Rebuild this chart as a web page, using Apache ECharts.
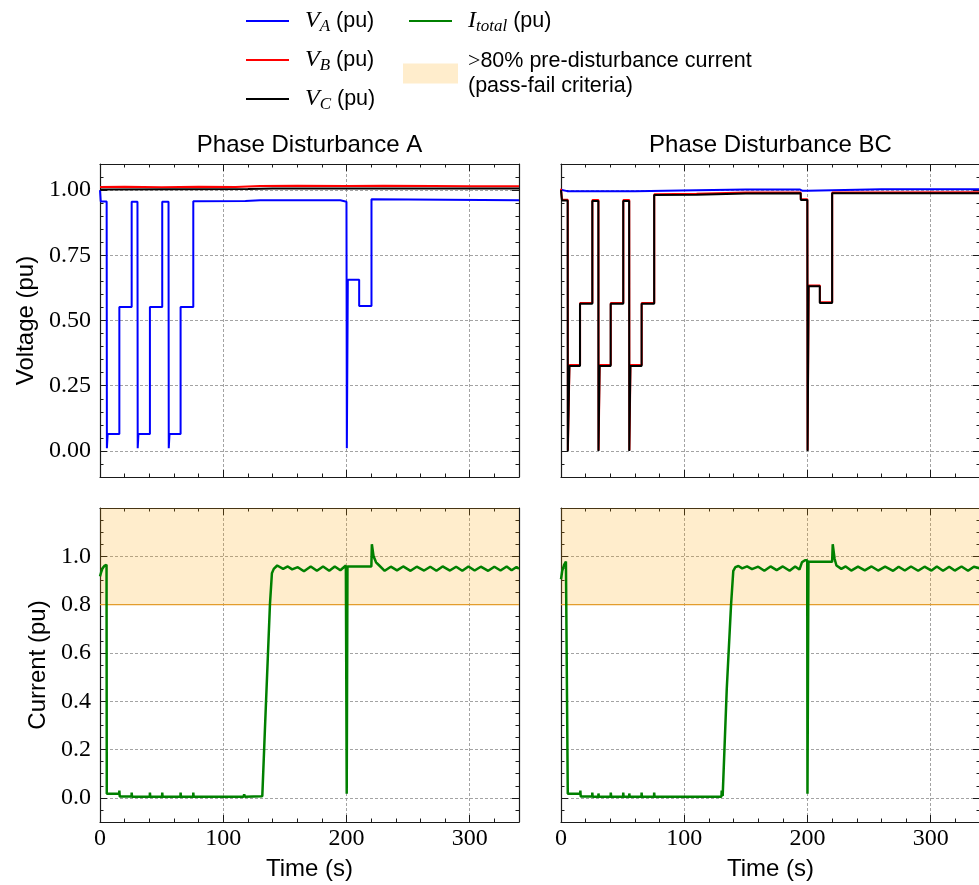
<!DOCTYPE html>
<html>
<head>
<meta charset="utf-8">
<title>Phase disturbance ride-through</title>
<script src="https://cdn.jsdelivr.net/npm/echarts@6/dist/echarts.min.js"></script>
<style>
  html, body { margin: 0; padding: 0; background: #fff; }
  #chart { width: 979px; height: 885px; }
</style>
</head>
<body>
<div id="chart"></div>
<script>
// axes
var timeMax = 340;
var timeTicks = [0, 100, 200, 300];
var voltageTicks = [0, 0.25, 0.5, 0.75, 1.0];
var currentTicks = [0, 0.2, 0.4, 0.6, 0.8, 1.0];
var voltageRange = [-0.1, 1.1];
var currentRange = [-0.1, 1.2];
var passFailLevel = 0.8;
var panelTitles = ['Phase Disturbance A', 'Phase Disturbance BC'];

// [time (s), value (pu)] -- phase A disturbance
var vaPhaseA = [[0, 1.000], [0.6, 0.956], [5.4, 0.956], [5.6, 0.010], [6.2, 0.065], [15.7, 0.065], [15.7, 0.552],
  [25.7, 0.552], [25.7, 0.955], [30.4, 0.955], [30.6, 0.010], [31.2, 0.065], [40.5, 0.065], [40.5, 0.552],
  [50.5, 0.552], [50.5, 0.955], [55.6, 0.955], [55.8, 0.010], [56.4, 0.065], [65.4, 0.065], [65.4, 0.552],
  [75.7, 0.552], [75.7, 0.957], [118, 0.958], [130, 0.961], [195, 0.961], [196, 0.955], [200, 0.955],
  [200.3, 0.010], [201.1, 0.656], [210.3, 0.656], [210.3, 0.556], [220.3, 0.556], [220.3, 0.965],
  [280, 0.963], [340, 0.961]];
var vbPhaseA = [[0, 1.012], [20, 1.013], [50, 1.011], [80, 1.013], [110, 1.012], [130, 1.016], [160, 1.017],
  [200, 1.016], [230, 1.017], [270, 1.016], [300, 1.015], [340, 1.015]];
var vcPhaseA = [[0, 1.002], [60, 1.003], [120, 1.004], [140, 1.006], [340, 1.006]];
var iPhaseA = [[0, 0.917], [1, 0.935], [2, 0.950], [3.5, 0.960], [5.3, 0.965], [5.5, 0.017], [15.6, 0.017],
  [15.7, 0.030], [16, 0.006], [25.6, 0.006], [25.7, 0.022], [26, 0.005], [40.4, 0.005], [40.5, 0.022],
  [40.8, 0.005], [50.4, 0.005], [50.5, 0.022], [50.8, 0.005], [65.3, 0.005], [65.4, 0.022], [65.7, 0.005],
  [75.6, 0.005], [75.7, 0.022], [76, 0.005], [116.5, 0.005], [117, 0.015], [117.5, 0.005], [131.7, 0.007],
  [133.8, 0.280], [137.9, 0.800], [139.5, 0.930], [141, 0.948], [143.8, 0.962], [148.6, 0.948],
  [152.4, 0.958], [155.9, 0.946], [160.5, 0.955], [165.5, 0.938], [171, 0.958], [176, 0.940], [181, 0.958],
  [186, 0.940], [190.5, 0.958], [195, 0.942], [199.5, 0.962], [200, 0.962], [200.2, 0.017], [200.8, 0.958],
  [220.2, 0.958], [220.6, 1.050], [222, 1.000], [224, 0.975], [226, 0.965], [231, 0.940], [236, 0.957],
  [241, 0.942], [246, 0.958], [252, 0.940], [257, 0.957], [263, 0.941], [268, 0.957], [273, 0.940],
  [278, 0.958], [284, 0.941], [289, 0.957], [294, 0.940], [299, 0.958], [304, 0.941], [309, 0.957],
  [315, 0.940], [320, 0.957], [325, 0.941], [330, 0.958], [334, 0.942], [338, 0.956], [340, 0.948]];

// [time (s), value (pu)] -- phase BC disturbance
var vaPhaseBC = [[0, 1.001], [5, 0.996], [60, 0.996], [110, 0.999], [150, 1.002], [194, 1.002], [196, 0.997],
  [200, 0.997], [201, 1.002], [260, 1.003], [340, 1.003]];
var vbPhaseBC = [[0, 1.005], [0.8, 0.963], [5.5, 0.963], [5.6, 0.003], [6.9, 0.003], [6.9, 0.329], [15.5, 0.329],
  [15.5, 0.567], [25.5, 0.567], [25.5, 0.962], [30.4, 0.962], [30.5, 0.003], [31.4, 0.329], [40.4, 0.329],
  [40.4, 0.567], [50.6, 0.567], [50.6, 0.962], [55.4, 0.962], [55.5, 0.003], [56.4, 0.329], [65.5, 0.329],
  [65.5, 0.567], [75.7, 0.567], [75.7, 0.984], [110, 0.986], [150, 0.991], [194.5, 0.991], [194.6, 0.965],
  [199.9, 0.965], [200.1, 0.003], [201, 0.634], [210.1, 0.634], [210.1, 0.570], [220.1, 0.570],
  [220.1, 0.991], [340, 0.992]];
var vcPhaseBC = [[0, 1.000], [0.8, 0.960], [5.4, 0.960], [5.5, 0.000], [6.8, 0.000], [6.8, 0.326], [15.4, 0.326],
  [15.4, 0.564], [25.4, 0.564], [25.4, 0.958], [30.3, 0.958], [30.4, 0.000], [31.3, 0.326], [40.3, 0.326],
  [40.3, 0.564], [50.5, 0.564], [50.5, 0.958], [55.3, 0.958], [55.4, 0.000], [56.3, 0.326], [65.4, 0.326],
  [65.4, 0.564], [75.6, 0.564], [75.6, 0.981], [110, 0.982], [150, 0.987], [194.5, 0.988], [194.6, 0.962],
  [199.9, 0.962], [200.1, 0.000], [200.9, 0.631], [210, 0.631], [210, 0.567], [220, 0.567], [220, 0.988],
  [340, 0.988]];
var iPhaseBC = [[0, 0.905], [1, 0.940], [2.5, 0.965], [4, 0.978], [5.3, 0.985], [5.5, 0.017], [15.6, 0.017],
  [15.7, 0.030], [16, 0.006], [25.3, 0.006], [25.4, 0.022], [25.7, 0.005], [30.3, 0.005], [30.4, 0.018],
  [30.7, 0.005], [40.3, 0.005], [40.4, 0.022], [40.7, 0.005], [50.4, 0.005], [50.5, 0.022], [50.8, 0.005],
  [55.3, 0.005], [55.4, 0.018], [55.7, 0.005], [65.3, 0.005], [65.4, 0.022], [65.7, 0.005], [75.5, 0.005],
  [75.6, 0.022], [75.9, 0.005], [117, 0.005], [117.4, 0.012], [117.8, 0.005], [130.2, 0.005], [130.4, 0.030],
  [131.2, 0.008], [134.5, 0.450], [138, 0.800], [139.8, 0.940], [141.5, 0.955], [144, 0.960], [147, 0.950],
  [151, 0.958], [155, 0.947], [160, 0.957], [165, 0.940], [170, 0.958], [175, 0.943], [180, 0.958],
  [185.5, 0.940], [190, 0.958], [193.5, 0.945], [195.5, 0.975], [198, 0.984], [199.8, 0.984], [200, 0.017],
  [200.8, 0.977], [220, 0.977], [220.5, 1.050], [222, 0.990], [223.5, 0.962], [227.5, 0.948], [231, 0.958],
  [235.5, 0.941], [241, 0.957], [246.5, 0.942], [252, 0.958], [257.3, 0.941], [263, 0.957], [269.5, 0.940],
  [274, 0.957], [279, 0.941], [284, 0.958], [289.8, 0.940], [295, 0.957], [300.6, 0.941], [305, 0.958],
  [310, 0.940], [315, 0.957], [319.5, 0.941], [325, 0.958], [330.3, 0.940], [335, 0.957], [340, 0.950]];

var sans = 'Liberation Sans';
var serif = 'Liberation Serif';
var frameColor = '#1a1a1a';
var gridLine = {color: '#8c8c8c', width: 0.8, type: [3, 2]};

var grids = [
    {left: 100, top: 164, width: 419, height: 313},
    {left: 561, top: 164, width: 419, height: 313},
    {left: 100, top: 508, width: 419, height: 314},
    {left: 561, top: 508, width: 419, height: 314}
];

function majorTick(values) {
    return {show: true, inside: true, length: 7, customValues: values, lineStyle: {color: frameColor, width: 1}};
}
function minorTick() {
    return {show: true, inside: true, length: 3.5, lineStyle: {color: frameColor, width: 1}};
}
function frame(show) {
    return {show: show, onZero: false, lineStyle: {color: frameColor, width: 1.2}};
}

// 4 x axes per grid: major bottom, minor bottom, major top, minor top
function xAxesFor(g, withLabels, title) {
    var base = {type: 'value', gridIndex: g, min: 0, max: timeMax, splitLine: {show: false}, axisLabel: {show: false}};
    return [
        Object.assign({}, base, {
            position: 'bottom', axisLine: frame(true), axisTick: majorTick(timeTicks),
            splitLine: {show: true, lineStyle: gridLine},
            axisLabel: {show: withLabels, customValues: timeTicks, margin: 5, color: '#000',
                fontFamily: serif, fontSize: 24},
            name: withLabels ? 'Time (s)' : '', nameLocation: 'middle', nameGap: 35,
            nameTextStyle: {fontFamily: sans, fontSize: 24, color: '#000'}
        }),
        Object.assign({}, base, {position: 'bottom', interval: 20, axisLine: frame(false), axisTick: minorTick()}),
        Object.assign({}, base, {
            position: 'top', axisLine: frame(true), axisTick: majorTick(timeTicks),
            name: title || '', nameLocation: 'middle', nameGap: 7,
            nameTextStyle: {fontFamily: sans, fontSize: 24, color: '#000'}
        }),
        Object.assign({}, base, {position: 'top', interval: 20, axisLine: frame(false), axisTick: minorTick()})
    ];
}

// 4 y axes per grid: major left, minor left, major right, minor right
function yAxesFor(g, range, ticks, digits, withLabels, name, gap) {
    var base = {type: 'value', gridIndex: g, min: range[0], max: range[1], splitLine: {show: false}, axisLabel: {show: false}};
    return [
        Object.assign({}, base, {
            position: 'left', axisLine: frame(true), axisTick: majorTick(ticks),
            splitLine: {show: true, lineStyle: gridLine},
            axisLabel: {show: withLabels, customValues: ticks, margin: 9, color: '#000',
                fontFamily: serif, fontSize: 24,
                formatter: function (v) { return v.toFixed(digits); }},
            name: withLabels ? name : '', nameLocation: 'middle', nameRotate: 90, nameGap: gap,
            nameTextStyle: {fontFamily: sans, fontSize: 24, color: '#000'}
        }),
        Object.assign({}, base, {position: 'left', interval: 0.05, axisLine: frame(false), axisTick: minorTick()}),
        Object.assign({}, base, {position: 'right', axisLine: frame(true), axisTick: majorTick(ticks)}),
        Object.assign({}, base, {position: 'right', interval: 0.05, axisLine: frame(false), axisTick: minorTick()})
    ];
}

function lineSeries(name, data, g, color, width) {
    return {
        name: name, type: 'line', data: data, xAxisIndex: g * 4, yAxisIndex: g * 4,
        symbol: 'none', lineStyle: {color: color, width: width}, itemStyle: {color: color}, z: 3
    };
}

function bandSeries(g) {
    return {
        name: 'band', type: 'line', data: [[0, passFailLevel], [timeMax, passFailLevel]],
        xAxisIndex: g * 4, yAxisIndex: g * 4, symbol: 'none', z: 1,
        lineStyle: {color: '#e39d2c', width: 1.3},
        itemStyle: {color: '#ffedcc'},
        areaStyle: {origin: 'end', color: 'rgba(255,165,0,0.2)', opacity: 1}
    };
}

var legendText = {
    VA: '{v|V}{s|A}{t| (pu)}',
    VB: '{v|V}{s|B}{t| (pu)}',
    VC: '{v|V}{s|C}{t| (pu)}',
    Itotal: '{v|I}{s|total}{t| (pu)}',
    band: '{g|>}{t|80% pre-disturbance current}\n{p|(pass-fail criteria)}'
};

function legendRich(gapLeft) {
    return {
        v: {fontFamily: serif, fontStyle: 'italic', fontSize: 24, lineHeight: 28, padding: [0, 0, 0, gapLeft], color: '#000'},
        s: {fontFamily: serif, fontStyle: 'italic', fontSize: 17, lineHeight: 16, verticalAlign: 'bottom', color: '#000'},
        t: {fontFamily: sans, fontSize: 21.5, lineHeight: 25, color: '#000'},
        g: {fontFamily: serif, fontSize: 22, lineHeight: 25, padding: [0, 0, 0, gapLeft], color: '#000'},
        p: {fontFamily: sans, fontSize: 21.5, lineHeight: 25, padding: [0, 0, 0, gapLeft], color: '#000'}
    };
}

function legendFor(names, left, top, w, h, gapLeft, gap, data) {
    return {
        data: data || names, orient: 'vertical', left: left, top: top, padding: 0,
        icon: 'rect', itemWidth: w, itemHeight: h, itemGap: gap, selectedMode: false,
        formatter: function (n) { return legendText[n]; },
        textStyle: {rich: legendRich(gapLeft)}
    };
}

var option = {
    animation: false,
    backgroundColor: '#fff',
    grid: grids.map(function (g) { return Object.assign({outerBoundsMode: 'none'}, g); }),
    legend: [
        legendFor(['VA', 'VB', 'VC'], 246, 9, 43, 2, 11, 13),
        legendFor(['Itotal'], 409, 9, 43, 2, 11, 13),
        legendFor(['band'], 403, 50, 55, 20, 5, 13,
            [{name: 'band', icon: 'rect', itemStyle: {color: '#ffedcc', borderWidth: 0}}])
    ],
    xAxis: [].concat(
        xAxesFor(0, false, panelTitles[0]),
        xAxesFor(1, false, panelTitles[1]),
        xAxesFor(2, true),
        xAxesFor(3, true)
    ),
    yAxis: [].concat(
        yAxesFor(0, voltageRange, voltageTicks, 2, true, 'Voltage (pu)', 62),
        yAxesFor(1, voltageRange, voltageTicks, 2, false),
        yAxesFor(2, currentRange, currentTicks, 1, true, 'Current (pu)', 50),
        yAxesFor(3, currentRange, currentTicks, 1, false)
    ),
    series: [
        lineSeries('VA', vaPhaseA, 0, '#0000ff', 2),
        lineSeries('VB', vbPhaseA, 0, '#ff0000', 2),
        lineSeries('VC', vcPhaseA, 0, '#000000', 2),
        lineSeries('VA', vaPhaseBC, 1, '#0000ff', 2),
        lineSeries('VB', vbPhaseBC, 1, '#ff0000', 2),
        lineSeries('VC', vcPhaseBC, 1, '#000000', 2),
        bandSeries(2),
        lineSeries('Itotal', iPhaseA, 2, '#008000', 2.5),
        bandSeries(3),
        lineSeries('Itotal', iPhaseBC, 3, '#008000', 2.5)
    ]
};

var chart = echarts.init(document.getElementById('chart'), null, {renderer: 'canvas'});
chart.setOption(option);
</script>
</body>
</html>
